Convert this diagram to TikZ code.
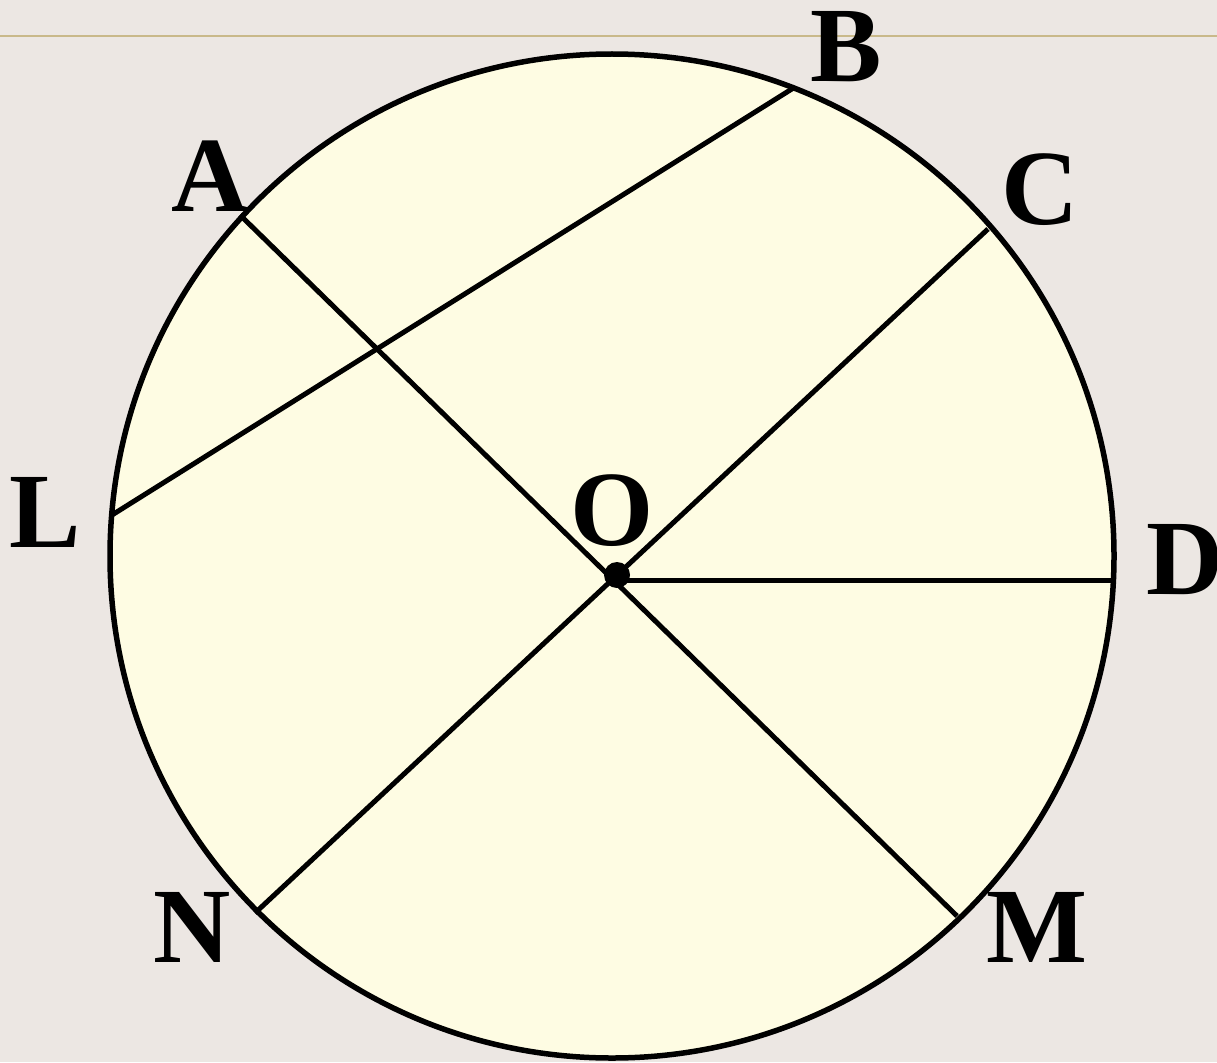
\documentclass[tikz,border=0pt]{standalone}
\usepackage{fontspec}
\setmainfont{Liberation Serif}
\usepackage{xcolor}
\usepackage{tikz}
\usetikzlibrary{positioning, calc}
\definecolor{slidebg}{RGB}{236,231,227}
\definecolor{discfill}{RGB}{254,252,227}
\definecolor{ruleline}{RGB}{201,185,138}
\tikzset{
    pointlabel/.style={inner sep=0pt, font=\bfseries\fontsize{107}{107}\selectfont},
    chordline/.style={line width=5pt, line cap=butt}
}

\begin{document}
\begin{tikzpicture}[x=1pt,y=-1pt]

        % ==========================================
        % Background and frame
        % ==========================================
        \fill[slidebg] (0,0) rectangle (1217,1062);
        \useasboundingbox (0,0) rectangle (1217,1062);
        \draw[ruleline, line width=2.5pt] (0,36) -- (1217,36);

        % ==========================================
        % Circle
        % ==========================================
        \coordinate (O) at (614,578);
        \filldraw[fill=discfill, draw=black, line width=5.5pt] (612,556) circle (502pt);

        % ==========================================
        % Points on the circle
        % ==========================================
        \coordinate (A) at (240,215);
        \coordinate (B) at (795,87);
        \coordinate (C) at (988,229);
        \coordinate (D) at (1113,580);
        \coordinate (L) at (112,515);
        \coordinate (M) at (957,916);
        \coordinate (N) at (255,913);
        \coordinate (Dstart) at (617,580);

        % ==========================================
        % Chords and radius
        % ==========================================
        \draw[chordline] (A) -- (M);
        \draw[chordline] (C) -- (N);
        \draw[chordline] (B) -- (L);
        \draw[chordline] (Dstart) -- (D);

        % Centre point
        \fill (617,575) circle (13pt);

        % ==========================================
        % Labels
        % ==========================================
        \node[pointlabel] (labA) at (210,176) {A};
        \node[pointlabel] (labB) at (846,47) {B};
        \node[pointlabel] (labC) at (1040,190) {C};
        \node[pointlabel, anchor=west] (labD) at (1146,560) {D};
        \node[pointlabel] (labL) at (45,512) {L};
        \node[pointlabel] (labO) at (612,511) {O};
        \node[pointlabel] (labN) at (192,927) {N};
        \node[pointlabel] (labM) at (1037,927) {M};

\end{tikzpicture}
\end{document}
